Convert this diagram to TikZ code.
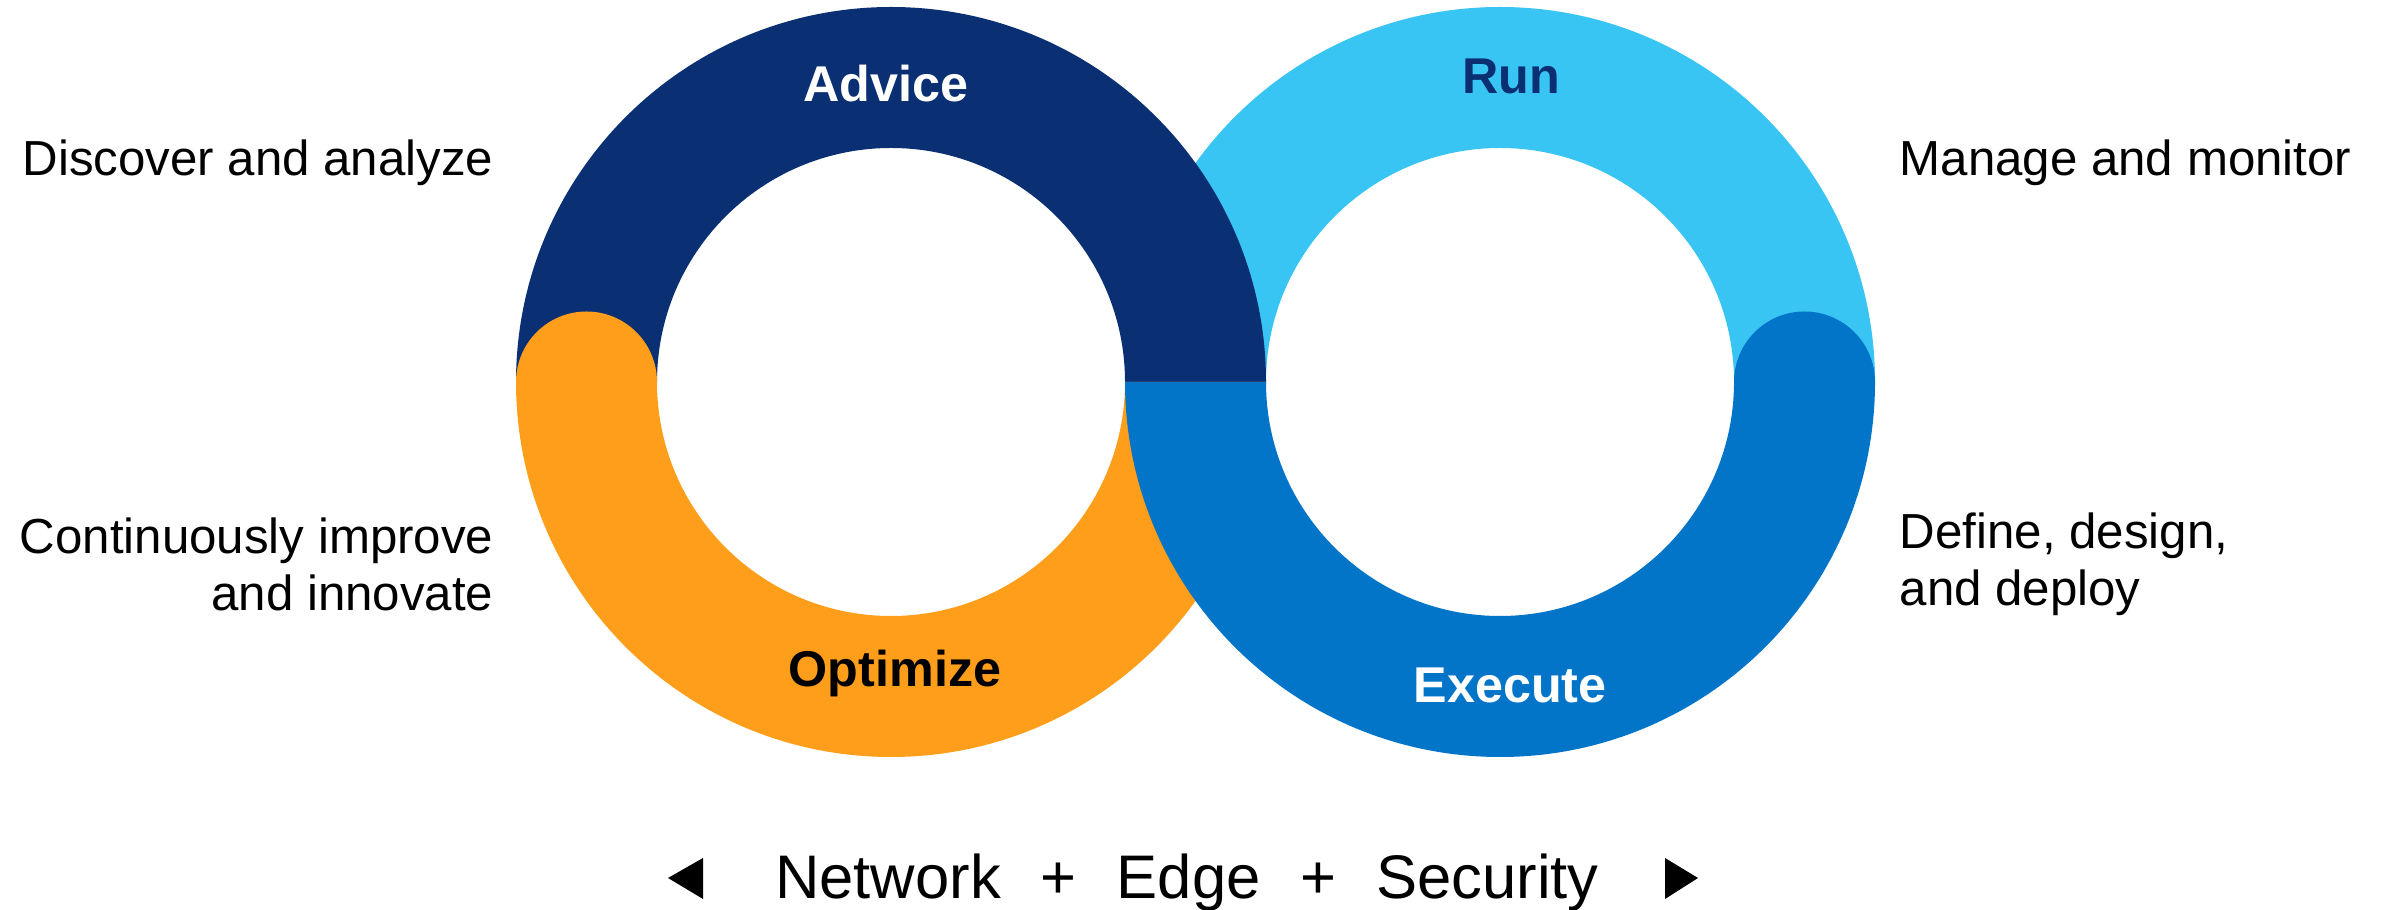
\documentclass[tikz,border=0pt]{standalone}
\usepackage{fontspec}
\setmainfont{Liberation Sans}
\usepackage{tikz}
\usepackage{xcolor}
\definecolor{advice}{HTML}{0A2F73}
\definecolor{run}{HTML}{38C5F3}
\definecolor{execute}{HTML}{0275C9}
\definecolor{optimize}{HTML}{FF9E1B}

\begin{document}
\begin{tikzpicture}[x=0.01cm,y=0.01cm,
	side/.style={inner sep=0pt,font=\fontsize{14}{16.2}\selectfont},
	ring/.style={inner sep=0pt,font=\fontsize{14.3}{17}\selectfont\bfseries},
	bottom/.style={inner sep=0pt,font=\fontsize{17.5}{20}\selectfont}]
	\useasboundingbox (0,0) rectangle (2382,909);
	\coordinate (L) at (891,527);
	\coordinate (R) at (1500,527);
	\fill[run] (R) ++(180:375) arc[start angle=180,end angle=0,radius=375]
		-- ++(-141,0) arc[start angle=0,end angle=180,radius=234] -- cycle;
	\fill[advice] (L) ++(180:375) arc[start angle=180,end angle=0,radius=375]
		-- ++(-141,0) arc[start angle=0,end angle=180,radius=234] -- cycle;
	\fill[optimize] (L) ++(180:375) arc[start angle=180,end angle=360,radius=375]
		-- ++(-141,0) arc[start angle=0,end angle=-180,radius=234]
		arc[start angle=0,end angle=180,radius=70.5] -- cycle;
	\fill[execute] (R) ++(180:375) arc[start angle=180,end angle=360,radius=375]
		arc[start angle=0,end angle=180,radius=70.5]
		arc[start angle=0,end angle=-180,radius=234] -- cycle;
	\node[ring,text=white] (advicelbl) at (886,825) {Advice};
	\node[ring,text=advice] (runlbl) at (1511,833) {Run};
	\node[ring] (optimizelbl) at (895,236) {Optimize};
	\node[ring,text=white] (executelbl) at (1510,224) {Execute};
	\node[side,anchor=east] (discover) at (494,746) {Discover and analyze};
	\node[side,anchor=east,align=right] (improve) at (494,345) {Continuously improve\\and innovate};
	\node[side,anchor=west] (manage) at (1899,746) {Manage and monitor};
	\node[side,anchor=west,align=left] (define) at (1899,345) {Define, design,\\and deploy};
	\node[bottom,anchor=base] (stack) at (1187,11) {Network\hspace{0.65em}+\hspace{0.65em}Edge\hspace{0.65em}+\hspace{0.65em}Security};
	\fill (668,31) -- (703,51) -- (703,10) -- cycle;
	\fill (1698,31) -- (1665,51) -- (1665,10) -- cycle;
\end{tikzpicture}
\end{document}
